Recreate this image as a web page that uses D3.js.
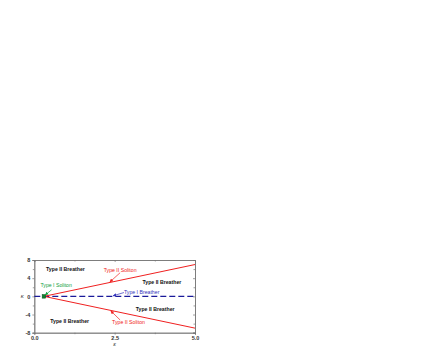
<!DOCTYPE html>
<html>
<head>
<meta charset="utf-8">
<script src="https://cdn.jsdelivr.net/npm/d3@7"></script>
<style>
  body { margin: 0; background: #fff; }
  text { font-family: 'Liberation Sans', Arial, sans-serif; }
</style>
</head>
<body>
<div id="chart"></div>
<script>
// boundary lines between regions
const solitonEps = [0.3, 5.0];
const upperK = [0, 7.0];
const lowerK = [0, -7.0];
const breatherEps = [0.0, 5.0];
const breatherK = [0, 0];
const pointEps = [0.3];
const pointK = [0];

const xTicks = [0, 2.5, 5];
const xMinor = [1.25, 3.75];
const yTicks = [-8, -4, 0, 4, 8];
const yMinor = [-6, -2, 2, 6];

// region labels (data units)
const labelText = ['Type II Breather', 'Type II Breather', 'Type II Breather', 'Type II Breather',
  'Type II Soliton', 'Type II Soliton', 'Type I Breather', 'Type I Soliton'];
const labelEps = [0.97, 3.97, 3.76, 1.1, 2.67, 2.93, 3.34, 0.68];
const labelK = [5.6, 2.75, -3.25, -5.8, 5.3, -6.1, 0.6, 2.1];
const labelKind = ['black', 'black', 'black', 'black', 'red', 'red', 'blue', 'green'];
// arrows: from label to line
const arrowFrom = [null, null, null, null, [2.67, 5.2], [2.67, -5.2], [2.79, 0.84], [0.54, 1.45]];
const arrowTo = [null, null, null, null, [2.35, 3.15], [2.38, -3.2], [2.45, 0.12], [0.34, 0.3]];

const colors = { black: '#111', red: '#f02020', blue: '#3333bb', green: '#10a040' };

const width = 436, height = 354;
const margin = { left: 34.3, right: 436 - 195, top: 260, bottom: 354 - 332.7 };

const xScale = d3.scaleLinear().domain([0, 5]).range([margin.left, width - margin.right]);
const yScale = d3.scaleLinear().domain([-8, 8]).range([height - margin.bottom, margin.top]);

const svg = d3.select('#chart').append('svg')
  .attr('width', width).attr('height', height);

const defs = svg.append('defs');
Object.keys(colors).forEach(k => {
  defs.append('marker')
    .attr('id', 'arr-' + k)
    .attr('viewBox', '0 0 10 10')
    .attr('refX', 9).attr('refY', 5)
    .attr('markerWidth', 5).attr('markerHeight', 5)
    .attr('orient', 'auto')
    .append('path')
    .attr('d', 'M0,0 L10,5 L0,10 z')
    .attr('fill', colors[k]);
});

const axisColor = '#777';
const x0 = xScale(0), x1 = xScale(5), y0 = yScale(-8), y1 = yScale(8);

// axes
const gx = svg.append('g').attr('transform', `translate(0,${y0})`)
  .call(d3.axisBottom(xScale).tickValues(xTicks).tickFormat(d3.format('.1f')).tickSize(2).tickPadding(1));
const gy = svg.append('g').attr('transform', `translate(${x0},0)`)
  .call(d3.axisLeft(yScale).tickValues(yTicks).tickFormat(d => d).tickSize(2).tickPadding(2));
const gxTop = svg.append('g').attr('transform', `translate(0,${y1})`)
  .call(d3.axisBottom(xScale).tickValues(xTicks).tickFormat('').tickSize(2));
const gyRight = svg.append('g').attr('transform', `translate(${x1},0)`)
  .call(d3.axisLeft(yScale).tickValues(yTicks).tickFormat('').tickSize(2));
// minor ticks
svg.append('g').attr('transform', `translate(0,${y0})`)
  .call(d3.axisBottom(xScale).tickValues(xMinor).tickFormat('').tickSize(1.5));
svg.append('g').attr('transform', `translate(0,${y1})`)
  .call(d3.axisBottom(xScale).tickValues(xMinor).tickFormat('').tickSize(1.5));
svg.append('g').attr('transform', `translate(${x0},0)`)
  .call(d3.axisLeft(yScale).tickValues(yMinor).tickFormat('').tickSize(1.5));
svg.append('g').attr('transform', `translate(${x1},0)`)
  .call(d3.axisLeft(yScale).tickValues(yMinor).tickFormat('').tickSize(1.5));

svg.selectAll('.domain').attr('stroke', axisColor).attr('stroke-width', 0.8);
svg.selectAll('.tick line').attr('stroke', axisColor).attr('stroke-width', 0.7);
svg.selectAll('.tick text').attr('fill', '#333').style('font-size', '5.5px')
  .style('font-family', "'Liberation Sans', Arial, sans-serif").style('font-weight', 'bold');

// axis titles
svg.append('text').attr('x', xScale(2.5)).attr('y', y0 + 13)
  .attr('text-anchor', 'middle').style('font-size', '6px').style('font-style', 'italic')
  .attr('fill', '#333').text('ε');
svg.append('text').attr('x', x0 - 12).attr('y', yScale(0) + 2)
  .attr('text-anchor', 'middle').style('font-size', '6px').style('font-style', 'italic')
  .attr('fill', '#333').text('κ');

const line = d3.line().x(d => xScale(d[0])).y(d => yScale(d[1]));

// dashed Type I Breather line
svg.append('path')
  .datum(breatherEps.map((e, i) => [e, breatherK[i]]))
  .attr('fill', 'none').attr('stroke', '#1a1a9a').attr('stroke-width', 1.3)
  .attr('stroke-dasharray', '6 3')
  .attr('d', line);

// soliton boundaries
[upperK, lowerK].forEach(ks => {
  svg.append('path')
    .datum(solitonEps.map((e, i) => [e, ks[i]]))
    .attr('fill', 'none').attr('stroke', '#f02020').attr('stroke-width', 1)
    .attr('d', line);
});

// Type I Soliton point
svg.selectAll('.pt').data(pointEps).enter().append('rect')
  .attr('x', (d, i) => xScale(d) - 1.8).attr('y', (d, i) => yScale(pointK[i]) - 1.8)
  .attr('width', 3.6).attr('height', 3.6)
  .attr('fill', '#108030').attr('stroke', '#0a5020').attr('stroke-width', 0.5);

// arrows
labelText.forEach((t, i) => {
  if (!arrowFrom[i]) return;
  svg.append('line')
    .attr('x1', xScale(arrowFrom[i][0])).attr('y1', yScale(arrowFrom[i][1]))
    .attr('x2', xScale(arrowTo[i][0])).attr('y2', yScale(arrowTo[i][1]))
    .attr('stroke', colors[labelKind[i]]).attr('stroke-width', 0.7)
    .attr('marker-end', `url(#arr-${labelKind[i]})`);
});

// labels
svg.selectAll('.lbl').data(labelText).enter().append('text')
  .attr('x', (d, i) => xScale(labelEps[i]))
  .attr('y', (d, i) => yScale(labelK[i]))
  .attr('text-anchor', 'middle')
  .style('font-size', '5.2px')
  .style('font-weight', (d, i) => labelKind[i] === 'black' ? 'bold' : 'normal')
  .attr('fill', (d, i) => colors[labelKind[i]])
  .text(d => d);
</script>
</body>
</html>
